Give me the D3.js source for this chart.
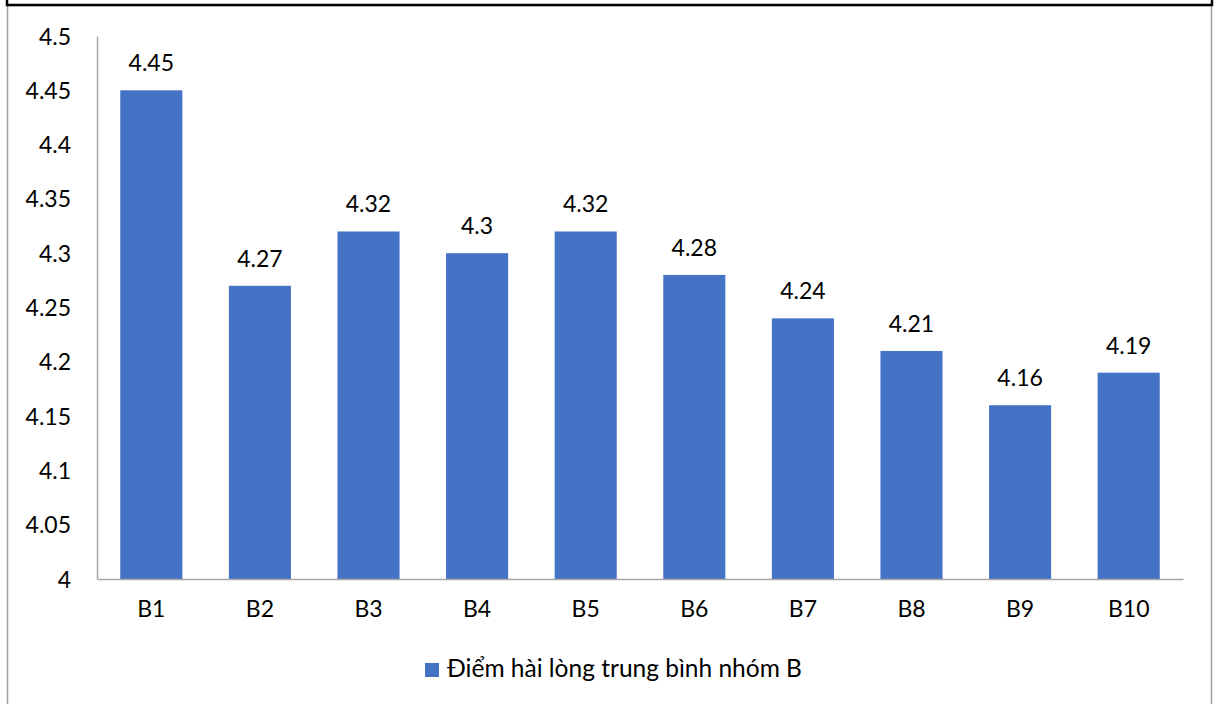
<!DOCTYPE html>
<html>
<head>
<meta charset="utf-8">
<script src="https://cdn.jsdelivr.net/npm/d3@7"></script>
<style>
  html, body { margin: 0; padding: 0; background: #fff; }
  svg { display: block; }
  text { font-family: Lato, "Open Sans", sans-serif; fill: #000; }
</style>
</head>
<body>
<svg id="chart" width="1215" height="704"></svg>
<script>
// Average satisfaction score per item in group B
const categories = ["B1", "B2", "B3", "B4", "B5", "B6", "B7", "B8", "B9", "B10"];
const scores = [4.45, 4.27, 4.32, 4.3, 4.32, 4.28, 4.24, 4.21, 4.16, 4.19];
const yTicks = [4, 4.05, 4.1, 4.15, 4.2, 4.25, 4.3, 4.35, 4.4, 4.45, 4.5];
const seriesName = "Điểm hài lòng trung bình nhóm B";

const W = 1215, H = 704;
const margin = { left: 97, right: 32, top: 36, bottom: 125 };
const barColor = "#4472C4";
const axisColor = "#a6a6a6";
const fontSize = 23;

const svg = d3.select("#chart");

// Chart frame
svg.append("rect")
  .attr("x", 7.5).attr("y", 5.5)
  .attr("width", 1204).attr("height", 720)
  .attr("fill", "none").attr("stroke", "#a0a0a0").attr("stroke-width", 1.5);
// Heavy rule along the top edge
svg.append("path")
  .attr("d", "M7,0 V5 H1212 V0")
  .attr("fill", "none").attr("stroke", "#000").attr("stroke-width", 2.5);

const x = d3.scaleBand()
  .domain(categories)
  .range([margin.left, W - margin.right])
  .paddingInner(0.4286)
  .paddingOuter(0.2143);

const y = d3.scaleLinear()
  .domain([4, 4.5])
  .range([H - margin.bottom, margin.top]);

const fmt = d => String(+d.toFixed(2));

// Bars
svg.append("g").selectAll("rect")
  .data(scores)
  .join("rect")
  .attr("x", (d, i) => x(categories[i]))
  .attr("y", d => y(d))
  .attr("width", x.bandwidth())
  .attr("height", d => y(4) - y(d))
  .attr("fill", barColor);

// Value labels above bars
svg.append("g").selectAll("text")
  .data(scores)
  .join("text")
  .attr("x", (d, i) => x(categories[i]) + x.bandwidth() / 2)
  .attr("y", d => y(d) - 19)
  .attr("text-anchor", "middle")
  .attr("font-size", fontSize)
  .text(d => fmt(d));

// Y axis
const yAxis = d3.axisLeft(y)
  .tickValues(yTicks)
  .tickSize(0)
  .tickPadding(26)
  .tickFormat(fmt);
const gy = svg.append("g")
  .attr("transform", `translate(${margin.left},0)`)
  .call(yAxis);
gy.select(".domain").attr("stroke", axisColor).attr("stroke-width", 1.5);
gy.selectAll("text").attr("font-size", fontSize).attr("font-family", "Lato, sans-serif").attr("dy", "0.35em");

// X axis
const xAxis = d3.axisBottom(x).tickSize(0).tickPadding(22);
const gx = svg.append("g")
  .attr("transform", `translate(0,${H - margin.bottom})`)
  .call(xAxis);
gx.select(".domain").attr("stroke", axisColor).attr("stroke-width", 1.5);
gx.selectAll("text").attr("font-size", fontSize).attr("font-family", "Lato, sans-serif");

// Legend
const legend = svg.append("g").attr("transform", "translate(425,663)");
legend.append("rect")
  .attr("width", 14).attr("height", 14)
  .attr("fill", barColor);
legend.append("text")
  .attr("x", 22).attr("y", 14)
  .attr("font-size", 24.5)
  .text(seriesName);
</script>
</body>
</html>
